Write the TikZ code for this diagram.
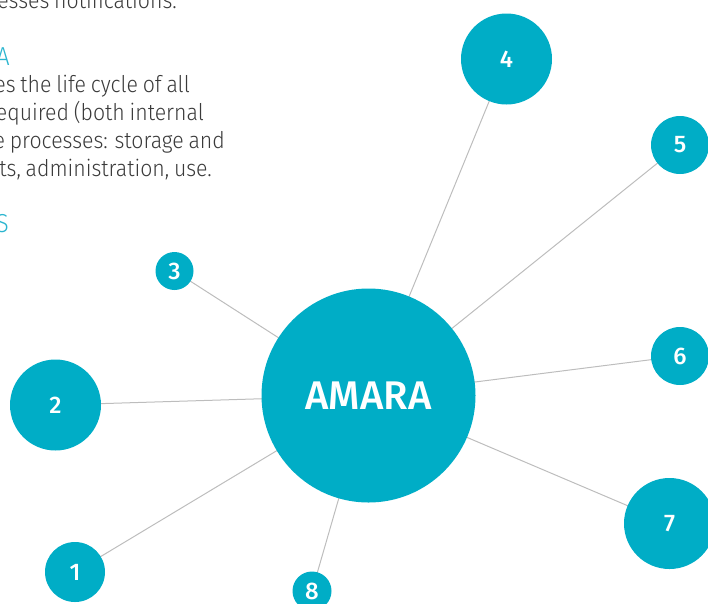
\documentclass[tikz,border=0pt]{standalone}
\usepackage{fontspec}
\setmainfont{Fira Sans}
\newfontfamily\lightfont{Fira Sans Light}[FakeStretch=0.925, WordSpace=0.8]
\newfontfamily\medfont{Fira Sans Medium}
\definecolor{amcyan}{HTML}{00ADC6}
\definecolor{headcyan}{HTML}{2BB5CF}
\definecolor{bodygray}{HTML}{3A3A3A}
\definecolor{linkgray}{HTML}{BDBDBD}
\tikzset{
  hub/.style={circle, fill=amcyan, inner sep=0pt, minimum size=#1, text=white, font=\medfont\fontsize{24}{24}\selectfont},
  link/.style={draw=linkgray, line width=1pt},
  bodytxt/.style={anchor=base east, inner sep=0pt, text=bodygray, font=\lightfont\fontsize{23}{28}\selectfont},
  headtxt/.style={anchor=base east, inner sep=0pt, text=headcyan, font=\lightfont\fontsize{26}{28}\selectfont}
}
\begin{document}
\begin{tikzpicture}[x=1pt,y=-1pt]
\useasboundingbox (0,0) rectangle (708,603);
\clip (0,0) rectangle (708,603);
% text
\node[bodytxt] (t1) at (177,8) {esses notifications.};
\node[headtxt] (h1) at (10,65) {A};
\node[bodytxt] (t2) at (190,92) {es the life cycle of all};
\node[bodytxt] (t3) at (204,120) {required (both internal};
\node[bodytxt] (t4) at (225,148) {e processes: storage and};
\node[bodytxt] (t5) at (212,176) {nts, administration, use.};
\node[headtxt] (h2) at (9,232) {S};
% coordinates of centres
\coordinate (cA) at (368.5,395.5);
\coordinate (c1) at (75,572);
\coordinate (c2) at (55.5,405);
\coordinate (c3) at (174.5,271);
\coordinate (c4) at (506.5,59);
\coordinate (c5) at (680,145);
\coordinate (c6) at (680,356);
\coordinate (c7) at (669.5,523.5);
\coordinate (c8) at (312,591);
% links
\foreach \i in {1,...,8} {\draw[link] (cA) -- (c\i);}
% circles
\node[hub=214pt, font=\medfont\fontsize{40}{40}\selectfont] (amara) at (cA) {AMARA};
\node[hub=60pt] (n1) at (c1) {1};
\node[hub=91pt] (n2) at (c2) {2};
\node[hub=38pt] (n3) at (c3) {3};
\node[hub=91pt] (n4) at (c4) {4};
\node[hub=58pt] (n5) at (c5) {5};
\node[hub=58pt] (n6) at (c6) {6};
\node[hub=91pt] (n7) at (c7) {7};
\node[hub=39pt] (n8) at (c8) {8};
\end{tikzpicture}
\end{document}
